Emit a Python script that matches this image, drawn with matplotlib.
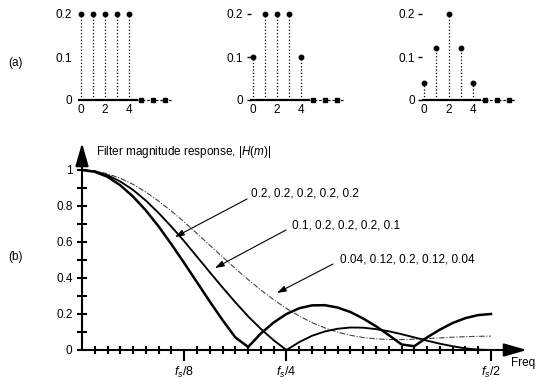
import matplotlib
matplotlib.use("Agg")
import matplotlib.pyplot as plt

plt.rcParams["font.family"] = ["Liberation Sans", "DejaVu Sans"]
plt.rcParams["mathtext.fontset"] = "custom"
plt.rcParams["mathtext.rm"] = "Liberation Sans"
plt.rcParams["mathtext.it"] = "Liberation Sans:italic"

# (a) filter coefficients
n = [0, 1, 2, 3, 4]
coef_box = [0.2, 0.2, 0.2, 0.2, 0.2]
coef_mid = [0.1, 0.2, 0.2, 0.2, 0.1]
coef_taper = [0.04, 0.12, 0.2, 0.12, 0.04]
n_zero = [5, 6, 7]
panel_ticks = [0, 0.1, 0.2]
panel_ticklabels = ["0", "0.1", "0.2"]

# (b) filter magnitude response, m = 0..32 (fs/2 at m = 32)
m = list(range(33))
mag_box = [1.0, 0.990, 0.962, 0.915, 0.852, 0.775, 0.686, 0.587, 0.483, 0.376,
           0.269, 0.166, 0.070, 0.017, 0.092, 0.153, 0.200, 0.232, 0.248, 0.249,
           0.236, 0.211, 0.175, 0.132, 0.083, 0.031, 0.021, 0.070, 0.113, 0.150,
           0.177, 0.194, 0.200]
mag_mid = [1.0, 0.993, 0.971, 0.936, 0.889, 0.830, 0.761, 0.685, 0.604, 0.518,
           0.432, 0.347, 0.265, 0.187, 0.117, 0.054, 0.0, 0.044, 0.079, 0.103,
           0.118, 0.125, 0.124, 0.116, 0.104, 0.088, 0.070, 0.052, 0.035, 0.021,
           0.009, 0.002, 0.0]
mag_taper = [1.0, 0.995, 0.979, 0.954, 0.920, 0.877, 0.827, 0.771, 0.711, 0.647,
             0.582, 0.517, 0.452, 0.391, 0.333, 0.279, 0.231, 0.189, 0.152, 0.123,
             0.099, 0.082, 0.069, 0.062, 0.058, 0.058, 0.060, 0.063, 0.067, 0.071,
             0.074, 0.076, 0.077]
freq_ticks = [8, 16, 32]
freq_labels = [r"$f_s$/8", r"$f_s$/4", r"$f_s$/2"]
mag_ticks = [0, 0.2, 0.4, 0.6, 0.8, 1]
mag_ticklabels = ["0", "0.2", "0.4", "0.6", "0.8", "1"]

W, H = 539, 386
fig = plt.figure(figsize=(W / 100, H / 100), dpi=100)


def px_axes(x0, y0, x1, y1):
    # pixel box (top-left origin) -> axes
    return fig.add_axes([x0 / W, 1 - y1 / H, (x1 - x0) / W, (y1 - y0) / H])


# ---- (a) three coefficient panels
for i, (x0, vals) in enumerate(zip([80.7, 252.7, 424.3], [coef_box, coef_mid, coef_taper])):
    sc = 12.1
    ax = px_axes(x0 - 0.4 * sc, 100 - 0.22 * 430, x0 + 7.8 * sc, 100)
    ax.set_xlim(-0.4, 7.8)
    ax.set_ylim(0, 0.22)
    ax.plot([-0.2, 4.7], [0, 0], color="k", lw=1.6, solid_capstyle="butt", clip_on=False)
    ax.plot([4.7, 7.5], [0, 0], color="k", lw=0.9, ls=(0, (2, 1.5)), clip_on=False)
    ax.plot(n_zero, [0] * len(n_zero), "s", color="k", ms=2.5, clip_on=False)
    ax.vlines(n, 0, vals, colors="k", linestyles=":", lw=0.9)
    ax.plot(n, vals, "o", color="k", ms=3.2, clip_on=False)
    for s in ax.spines.values():
        s.set_color("none")
    ax.spines["left"].set_position(("data", -0.15))
    ax.set_yticks(panel_ticks, panel_ticklabels)
    ax.set_xticks([0, 2, 4], ["0", "2", "4"])
    if i == 0:
        ax.tick_params(axis="y", length=0, pad=5, labelsize=8.5)
    else:
        ax.tick_params(axis="y", direction="out", length=3, width=1, pad=2.5, labelsize=8.5)
    ax.tick_params(axis="x", length=0, pad=3, labelsize=8.5)
    ax.patch.set_alpha(0)

# ---- (b) magnitude response
ax = px_axes(82, 143, 527, 350)
ax.set_xlim(0, 34.82)
ax.set_ylim(0, 1.15)
ax.patch.set_alpha(0)
for s in ax.spines.values():
    s.set_color("none")

ax.plot(m, mag_taper, color="#444444", lw=0.8, ls=(0, (5, 1.5, 1, 1.5)))
ax.plot(m, mag_mid, color="k", lw=1.35)
ax.plot(m, mag_box, color="k", lw=1.8)

arrow_kw = dict(arrowstyle="-|>,head_length=0.7,head_width=0.2", color="k", lw=1.5,
                shrinkA=0, shrinkB=0, mutation_scale=20)
ax.annotate("", xy=(1, 0), xytext=(0, 0), xycoords="axes fraction", arrowprops=arrow_kw)
ax.annotate("", xy=(0, 1), xytext=(0, 0), xycoords="axes fraction", arrowprops=arrow_kw)

ax.set_xticks(freq_ticks, freq_labels)
ax.set_xticks([i for i in range(1, 32) if i not in freq_ticks], minor=True)
ax.tick_params(axis="x", which="major", direction="out", length=8, width=1.5, pad=3, labelsize=9)
ax.tick_params(axis="x", which="minor", direction="inout", length=5.5, width=1.5)
ax.set_yticks(mag_ticks, mag_ticklabels)
ax.set_yticks([0.1, 0.3, 0.5, 0.7, 0.9], minor=True)
ax.tick_params(axis="y", which="both", direction="inout", length=7.5, width=1.5, pad=3, labelsize=8.5)


def to_data(x, y):
    return (x - 82) / 12.78, (350 - y) / 180


note_kw = dict(arrowstyle="-|>,head_length=0.45,head_width=0.15", color="k", lw=0.8,
               shrinkA=0, shrinkB=0, mutation_scale=12)
notes = [("0.2, 0.2, 0.2, 0.2, 0.2", (251, 194), (247, 199), (175, 237)),
         ("0.1, 0.2, 0.2, 0.2, 0.1", (292, 226), (286, 230), (215, 268)),
         ("0.04, 0.12, 0.2, 0.12, 0.04", (340, 260), (333, 264), (277, 293))]
for label, tpos, tail, tip in notes:
    ax.text(*to_data(*tpos), label, fontsize=8.5, va="center", ha="left")
    ax.annotate("", xy=to_data(*tip), xytext=to_data(*tail), arrowprops=note_kw,
                annotation_clip=False)

fig.text(96.5 / W, 1 - 152 / H, r"Filter magnitude response, |$H$($m$)|",
         fontsize=8.5, va="center", ha="left")
fig.text(511 / W, 1 - 363 / H, "Freq", fontsize=8.5, va="center", ha="left")
fig.text(8 / W, 1 - 63 / H, "(a)", fontsize=8.5, va="center", ha="left")
fig.text(8 / W, 1 - 257 / H, "(b)", fontsize=8.5, va="center", ha="left")

fig.savefig("out.png", dpi=100)
